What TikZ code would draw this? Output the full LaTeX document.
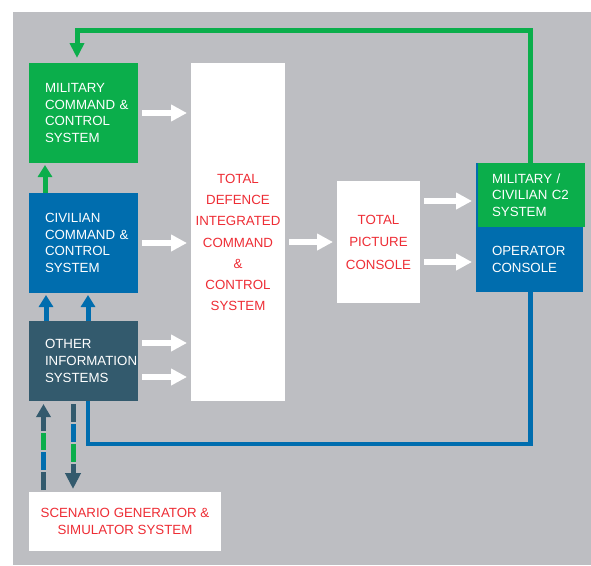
\documentclass[tikz,border=0pt]{standalone}
\usepackage{fontspec}
\setmainfont{Liberation Sans}
\usepackage{tikz}
\usetikzlibrary{arrows.meta,positioning,calc}
\usepackage{xcolor}
\definecolor{bggray}{HTML}{BDBEC2}
\definecolor{milgreen}{HTML}{0BAE4B}
\definecolor{civblue}{HTML}{006DAE}
\definecolor{othslate}{HTML}{335A6D}
\definecolor{tdred}{HTML}{EE2D35}

\begin{document}
\begin{tikzpicture}[
    x=1pt, y=-1pt,
    sysbox/.style={rectangle, text=white, text width=77pt, inner xsep=16pt, inner ysep=0pt, align=left, minimum height=100pt, outer sep=0pt, font=\fontsize{13.3}{16.7}\selectfont},
    redbox/.style={rectangle, fill=white, text=tdred, align=center, inner sep=0pt, outer sep=0pt},
    wide/.style={-{Triangle[length=16pt,width=16pt]}, line width=6.5pt, white, shorten <=4pt, shorten >=4pt},
    link/.style={line width=5pt},
    sim/.style={line width=5pt, othslate}
]
    \useasboundingbox (0,0) rectangle (591,565);
    \fill[white] (0,0) rectangle (591,565);
    \fill[bggray] (13,12) rectangle (591,565);

    % Source systems
    \node[sysbox, fill=milgreen, anchor=north west] (mil) at (29,63) {MILITARY\\COMMAND~\&\\CONTROL\\SYSTEM};
    \node[sysbox, fill=civblue, below=30pt of mil] (civ) {CIVILIAN\\COMMAND~\&\\CONTROL\\SYSTEM};
    \node[sysbox, fill=othslate, minimum height=80pt, below=28pt of civ] (oth) {OTHER\\INFORMATION\\SYSTEMS};

    % Integration and consoles
    \node[redbox, minimum width=94pt, minimum height=338pt, font=\fontsize{13.3}{21.3}\selectfont, right=53pt of mil.north east, anchor=north west] (td) {{}\\[9pt]TOTAL\\DEFENCE\\INTEGRATED\\COMMAND\\\&\\CONTROL\\SYSTEM};
    \node[redbox, minimum width=83pt, minimum height=122pt, font=\fontsize{13.3}{22.5}\selectfont, right=52pt of td, yshift=-10pt] (tpc) {TOTAL\\PICTURE\\CONSOLE};
    \node[sysbox, fill=milgreen, minimum height=64pt, right=56pt of tpc.north east, anchor=north west, yshift=18pt,
        path picture={\fill[civblue] (path picture bounding box.south west) rectangle ([xshift=2pt]path picture bounding box.north west);}] (c2) {MILITARY /\\CIVILIAN~C2\\SYSTEM};
    \node[sysbox, fill=civblue, text width=75pt, minimum height=65pt, below=0pt of c2.south west, anchor=north west] (opcon) {OPERATOR\\CONSOLE};

    % Simulator below
    \node[redbox, minimum width=192pt, minimum height=59pt, font=\fontsize{13.3}{17}\selectfont, below=91pt of oth.south west, anchor=north west] (scen) {SCENARIO GENERATOR \&\\SIMULATOR SYSTEM};

    % Data flows
    \draw[wide] (mil.east) -- (mil.east -| td.west);
    \draw[wide] (civ.east) -- (civ.east -| td.west);
    \draw[wide] ([yshift=18pt]oth.east) -- ([yshift=18pt]oth.east -| td.west);
    \draw[wide] ([yshift=-16pt]oth.east) -- ([yshift=-16pt]oth.east -| td.west);
    \draw[wide] (tpc.west -| td.east) -- (tpc.west);
    \draw[wide] ([yshift=-6pt]c2.west -| tpc.east) -- ([yshift=-6pt]c2.west);
    \draw[wide] ([yshift=-2.5pt]opcon.west -| tpc.east) -- ([yshift=-2.5pt]opcon.west);

    % Links between systems
    \draw[link, milgreen, -{Triangle[length=12pt,width=14pt]}, shorten >=2pt] ([xshift=16pt]civ.north west) -- ([xshift=16pt]mil.south west);
    \draw[link, civblue, -{Triangle[length=12pt,width=14pt]}, shorten >=2pt] ([xshift=17pt]oth.north west) -- ([xshift=17pt]civ.south west);
    \draw[link, civblue, -{Triangle[length=12pt,width=14pt]}, shorten >=2pt] ([xshift=59pt]oth.north west) -- ([xshift=59pt]civ.south west);

    % Feedback loops
    \coordinate (gturn) at (77,30.5);
    \draw[link, milgreen, -{Triangle[length=15pt,width=14pt]}, shorten >=5pt] (c2.north) |- (gturn) -- (gturn |- mil.north);
    \draw[link, civblue, line width=4.5pt] ([xshift=59pt]oth.south west) -- ++(0,43) -| (opcon.south -| c2.north);

    % Simulator links
    \draw[sim, -{Triangle[length=13pt,width=14pt]}, shorten <=2pt, shorten >=3pt, dash pattern=on 18pt off 41pt on 60pt off 10pt] ([xshift=14.5pt]scen.north west) -- ([xshift=14.5pt]scen.north west |- oth.south);
    \draw[sim, civblue, shorten <=2pt, dash pattern=on 0pt off 20pt on 18pt off 100pt] ([xshift=14.5pt]scen.north west) -- ([xshift=14.5pt]scen.north west |- oth.south);
    \draw[sim, milgreen, shorten <=2pt, dash pattern=on 0pt off 40pt on 17pt off 100pt] ([xshift=14.5pt]scen.north west) -- ([xshift=14.5pt]scen.north west |- oth.south);

    \draw[sim, -{Triangle[length=16pt,width=15pt]}, shorten <=3pt, shorten >=3pt, dash pattern=on 18pt off 42pt on 50pt off 10pt] ([xshift=44pt]oth.south west) -- ([xshift=44pt]oth.south west |- scen.north);
    \draw[sim, civblue, shorten <=3pt, dash pattern=on 0pt off 20pt on 18pt off 100pt] ([xshift=44pt]oth.south west) -- ([xshift=44pt]oth.south west |- scen.north);
    \draw[sim, milgreen, shorten <=3pt, dash pattern=on 0pt off 40pt on 18pt off 100pt] ([xshift=44pt]oth.south west) -- ([xshift=44pt]oth.south west |- scen.north);

\end{tikzpicture}
\end{document}
